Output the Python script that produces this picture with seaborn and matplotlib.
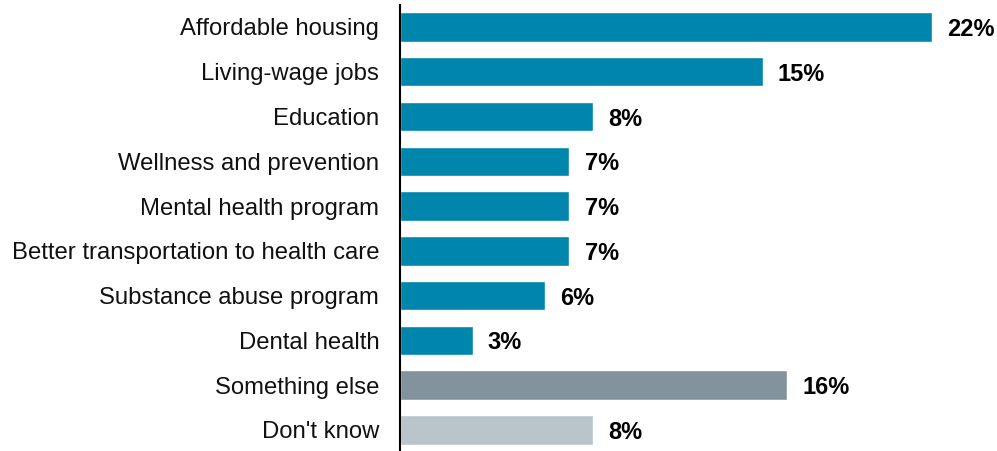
import pandas as pd
import seaborn as sb
import matplotlib.pyplot as plt

categories = [
    "Affordable housing",
    "Living-wage jobs",
    "Education",
    "Wellness and prevention",
    "Mental health program",
    "Better transportation to health care",
    "Substance abuse program",
    "Dental health",
    "Something else",
    "Don't know",
]
values = [22, 15, 8, 7, 7, 7, 6, 3, 16, 8]
groups = ["main"] * 8 + ["else", "dk"]
palette = {"main": "#0086AD", "else": "#82939E", "dk": "#BAC5CB"}

df = pd.DataFrame({"Category": categories, "Percent": values, "Group": groups})

sb.set_theme(style="white")
plt.rcParams["font.family"] = ["Liberation Sans", "DejaVu Sans"]

fig = plt.figure(figsize=(9.97, 4.51), dpi=100)
ax = fig.add_axes([400 / 997, 0, 597 / 997, 446 / 451])

sb.barplot(
    data=df,
    x="Percent",
    y="Category",
    hue="Group",
    palette=palette,
    dodge=False,
    legend=False,
    width=0.66,
    saturation=1,
    ax=ax,
)

for i, v in enumerate(values):
    ax.annotate(
        f"{v}%",
        xy=(v, i),
        xytext=(11, 0),
        textcoords="offset points",
        va="center_baseline",
        ha="left",
        fontsize=17,
        fontweight="bold",
        color="black",
    )

ax.set_xlim(0, 597 / 24.18)
ax.set_ylim(9.47, -0.49)
ax.set_xlabel("")
ax.set_ylabel("")
ax.set_xticks([])
ax.tick_params(axis="y", length=0, pad=15, labelsize=17.2, labelcolor="#111111")
for s in ["top", "right", "bottom"]:
    ax.spines[s].set_visible(False)
ax.spines["left"].set_color("black")
ax.spines["left"].set_linewidth(1.5)

fig.savefig("out.png", dpi=100)
